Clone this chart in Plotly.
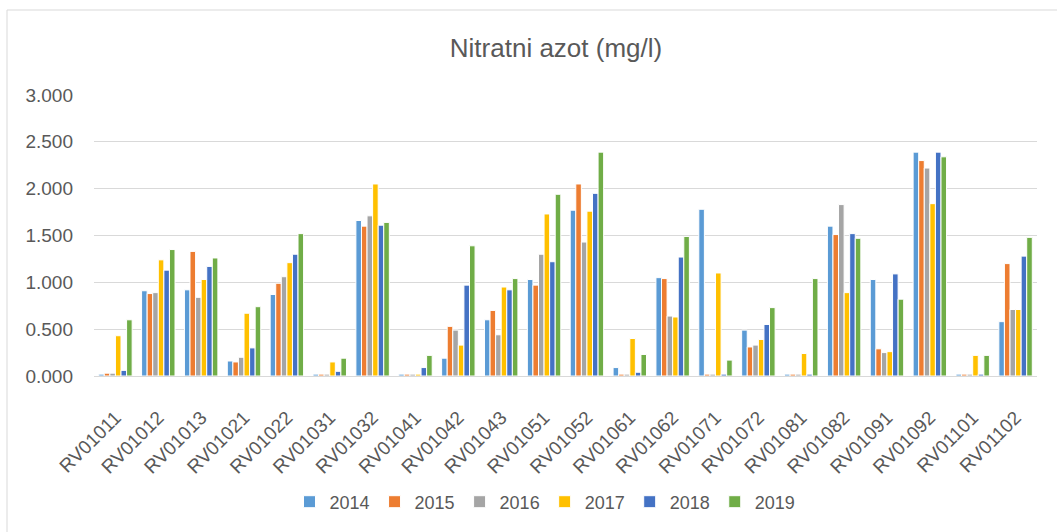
import plotly.graph_objects as go

categories = ["RV01011", "RV01012", "RV01013", "RV01021", "RV01022", "RV01031", "RV01032",
              "RV01041", "RV01042", "RV01043", "RV01051", "RV01052", "RV01061", "RV01062",
              "RV01071", "RV01072", "RV01081", "RV01082", "RV01091", "RV01092", "RV01101", "RV01102"]

y2014 = [0.02, 0.91, 0.92, 0.16, 0.87, 0.02, 1.66, 0.02, 0.19, 0.60, 1.03, 1.77, 0.09, 1.05,
         1.78, 0.49, 0.02, 1.60, 1.03, 2.39, 0.02, 0.58]
y2015 = [0.03, 0.88, 1.33, 0.15, 0.99, 0.02, 1.60, 0.02, 0.53, 0.70, 0.97, 2.05, 0.02, 1.04,
         0.02, 0.31, 0.02, 1.51, 0.29, 2.30, 0.02, 1.20]
y2016 = [0.03, 0.89, 0.84, 0.20, 1.06, 0.02, 1.71, 0.02, 0.49, 0.44, 1.30, 1.43, 0.02, 0.64,
         0.02, 0.33, 0.02, 1.83, 0.25, 2.22, 0.02, 0.71]
y2017 = [0.43, 1.24, 1.03, 0.67, 1.21, 0.15, 2.05, 0.02, 0.33, 0.95, 1.73, 1.76, 0.40, 0.63,
         1.10, 0.39, 0.24, 0.89, 0.26, 1.84, 0.22, 0.71]
y2018 = [0.06, 1.13, 1.17, 0.30, 1.30, 0.05, 1.61, 0.09, 0.97, 0.92, 1.22, 1.95, 0.04, 1.27,
         0.02, 0.55, 0.02, 1.52, 1.09, 2.39, 0.02, 1.28]
y2019 = [0.60, 1.35, 1.26, 0.74, 1.52, 0.19, 1.64, 0.22, 1.39, 1.04, 1.94, 2.39, 0.23, 1.49,
         0.17, 0.73, 1.04, 1.47, 0.82, 2.34, 0.22, 1.48]

years = ["2014", "2015", "2016", "2017", "2018", "2019"]
series = [y2014, y2015, y2016, y2017, y2018, y2019]
colors = ["#5B9BD5", "#ED7D31", "#A5A5A5", "#FFC000", "#4472C4", "#70AD47"]

FONT = "Liberation Sans"
GREY = "#595959"

W, H = 1057, 532
L, R, T, B = 94, 20, 95, 156

fig = go.Figure()
for name, vals, col in zip(years, series, colors):
    fig.add_trace(go.Bar(x=categories, y=vals, name=name,
                         marker=dict(color=col, line=dict(color="white", width=1))))

pw = W - L - R
ph = H - T - B

fig.update_layout(
    width=W, height=H,
    paper_bgcolor="white", plot_bgcolor="white",
    barmode="group", bargap=0.22, bargroupgap=0,
    margin=dict(l=L, r=R, t=T, b=B, autoexpand=False),
    font=dict(family=FONT, color=GREY, size=18),
    title=dict(text="Nitratni azot (mg/l)", x=556 / W, xanchor="center",
               y=1 - 48 / H, yanchor="middle",
               font=dict(family=FONT, size=26, color=GREY)),
    legend=dict(orientation="h", x=(545 - L) / pw, xanchor="center",
                y=(H - B - 502) / ph, yanchor="middle",
                font=dict(family=FONT, size=18, color=GREY), itemwidth=30,
                traceorder="normal"),
    xaxis=dict(tickangle=-45, showgrid=False, showline=True, linecolor="#D9D9D9",
               linewidth=1, ticks="", ticklabelstandoff=22,
               tickfont=dict(family=FONT, size=19, color=GREY)),
    yaxis=dict(range=[0, 3], dtick=0.5, tickformat=".3f", showgrid=True,
               gridcolor="#D9D9D9", gridwidth=1, zeroline=False, showline=False,
               ticks="", ticklen=0, ticklabelstandoff=20,
               tickfont=dict(family=FONT, size=19, color=GREY)),
    shapes=[dict(type="rect", xref="paper", yref="paper",
                 x0=(7 - L) / pw, x1=1.1, y0=-0.7, y1=(H - B - 10) / ph,
                 line=dict(color="#D9D9D9", width=1), fillcolor="rgba(0,0,0,0)", layer="below")],
)

fig.write_html("out.html", config={"displayModeBar": False})

with open("out.html", "r", encoding="utf-8") as f:
    html = f.read()
html = html.replace("<body>", '<body style="margin:0;padding:0;overflow:hidden">', 1)
with open("out.html", "w", encoding="utf-8") as f:
    f.write(html)
